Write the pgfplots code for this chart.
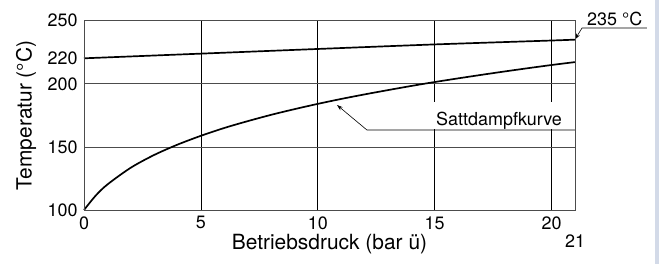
\documentclass[border=0pt]{standalone}
\usepackage{pgfplots}
\pgfplotsset{compat=1.18}
\usepackage{fontspec}
\setmainfont{TeX Gyre Heros}
\usetikzlibrary{arrows.meta}
\definecolor{strip}{HTML}{D3DAE8}
\begin{document}
\begin{tikzpicture}
\fill[white] (0,0) rectangle (659bp,264bp);
\fill[strip] (655bp,0) rectangle (659bp,264bp);
\begin{axis}[
  at={(84bp,54bp)}, anchor=south west,
  scale only axis, width=491bp, height=189.3bp,
  xmin=0, xmax=21, ymin=100, ymax=250,
  xtick={0,5,10,15,20}, ytick={100,150,200,220,250},
  extra x ticks={21},
  extra x tick style={tick label style={yshift=-18bp}},
  major tick length=0pt,
  /pgf/number format/assume math mode=true,
  tick label style={font=\fontsize{18}{20}\selectfont},
  yticklabel style={xshift=-3bp},
  xticklabel style={yshift=-3bp},
  axis line style={black!70, line width=0.8pt},
  axis on top,
  clip=false,
  xlabel={Betriebsdruck (bar ü)},
  ylabel={Temperatur (°C)},
  every axis x label/.style={at={(axis description cs:0.5,-0.178)},anchor=center,font=\fontsize{21}{24}\selectfont},
  every axis y label/.style={at={(axis description cs:-0.118,0.5)},rotate=90,anchor=center,font=\fontsize{21}{24}\selectfont},
]
% grid
\foreach \xx in {5,10,15,20} {
  \edef\tmp{\noexpand\draw[black, line width=0.8pt] (axis cs:\xx,100) -- (axis cs:\xx,250);}
  \tmp
}
\draw[black!70, line width=0.8pt] (axis cs:0,150) -- (axis cs:21,150);
\draw[black!70, line width=0.8pt] (axis cs:0,200) -- (axis cs:21,200);
% curves
\addplot[black, line width=1.7pt, smooth] coordinates {
 (0,220.2) (5,223.9) (10,227.6) (15,231.2) (20,234.3) (21,235)};
\addplot[black, line width=1.7pt, smooth] coordinates {
 (0,100) (0.5,111.4) (1,120.2) (2,133.5) (3,143.6) (4,151.8) (5,158.8)
 (6,165.0) (7,170.4) (8,175.4) (9,179.9) (10,184.1) (11,188.0) (12,191.6)
 (13,195.0) (14,198.3) (15,201.4) (16,204.3) (17,207.1) (18,209.8)
 (19,212.4) (20,214.9) (21,217.2)};
% label Sattdampfkurve
\fill[white] (axis cs:14.85,164.3) rectangle (axis cs:20.96,185.6);
\node[anchor=base, font=\fontsize{18}{20}\selectfont, inner sep=0pt] at (axis cs:17.75,166.6) {Sattdampfkurve};
\draw[black, line width=0.6pt, -{Stealth[length=6pt,width=4pt]}] (axis cs:21,163.4) -- (axis cs:12.1,163.4) -- (axis cs:10.82,183.2);
% label 235
\node[anchor=base, font=\fontsize{18}{20}\selectfont, inner sep=0pt] at (axis cs:22.7,246.3) {235 °C};
\draw[black, line width=0.6pt, -{Stealth[length=6pt,width=4pt]}] (axis cs:24.07,244.2) -- (axis cs:21.3,244.2) -- (axis cs:21.0,235.2);
\end{axis}
\end{tikzpicture}
\end{document}
